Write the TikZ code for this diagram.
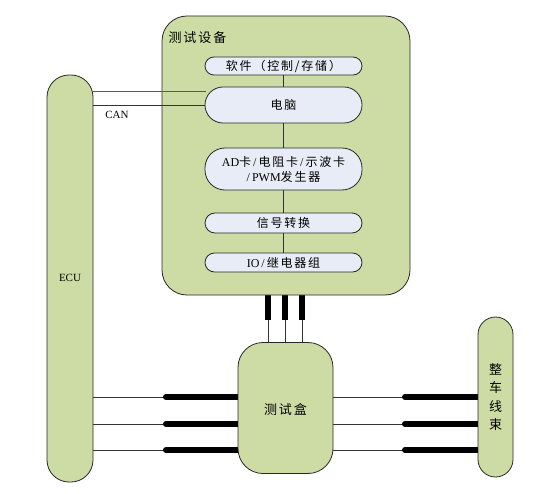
\documentclass[tikz,border=0pt]{standalone}
\usepackage{fontspec}
\setmainfont{Liberation Serif}
\newfontfamily\cjk[LetterSpace=15]{Noto Sans CJK SC}
\usetikzlibrary{backgrounds}
\definecolor{grn}{RGB}{205,220,165}
\definecolor{lbl}{RGB}{232,236,246}
\definecolor{edge}{RGB}{40,40,40}
\begin{document}
\begin{tikzpicture}[x=1pt,y=-1pt,
  greenbox/.style={draw=edge,fill=grn,line width=0.8pt,inner sep=0pt},
  inner/.style={draw=edge,fill=lbl,line width=0.8pt,inner sep=0pt,minimum width=157pt,align=center,font=\fontsize{12}{15}\selectfont},
  thin/.style={line width=0.7pt,draw=black!80},
  thick/.style={line width=6pt,line cap=round},
  vthick/.style={line width=6pt}]
\useasboundingbox (0,0) rectangle (553,494);
% main device box
\node[greenbox,minimum width=248pt,minimum height=279pt,rounded corners=25pt] (dev) at (286,155.5) {};
\node[font=\fontsize{13}{15}\selectfont,anchor=west] (devt) at (165,38) {\cjk 测试设备};
% inner boxes
\node[inner,minimum height=18pt,rounded corners=9pt] (soft) at (283.5,66) {\cjk 软件（控制/存储）};
\node[inner,minimum height=36pt,rounded corners=18pt] (pc) at (283.5,105) {\cjk 电脑};
\node[inner,minimum height=42pt,rounded corners=20pt] (ad) at (283.5,169) {AD{\cjk 卡}\,/\,{\cjk 电阻卡}\,/\,{\cjk 示波卡}\\/\,PWM{\cjk 发生器}};
\node[inner,minimum height=20pt,rounded corners=10pt] (sig) at (283.5,223) {\cjk 信号转换};
\node[inner,minimum height=19pt,rounded corners=9.5pt] (io) at (283.5,262.5) {IO\,/\,{\cjk 继电器组}};
\draw[thin] (soft) -- (pc) -- (ad) -- (sig) -- (io);
% ECU
\node[greenbox,minimum width=46pt,minimum height=407pt,rounded corners=22pt] (ecu) at (70,278.5) {};
\node[font=\fontsize{11}{13}\selectfont] (ecut) at (70,278) {ECU};
% CAN
\coordinate (can1) at (206,92);
\draw[thin,draw=black!65,line width=1pt] (ecu.east |- can1) -- (can1);
\draw[thin] (ecu.east |- pc.west) -- (pc.west);
\node[font=\fontsize{11}{13}\selectfont] (cant) at (117,115) {CAN};
% test box
\node[greenbox,minimum width=95pt,minimum height=131pt,rounded corners=25pt] (tb) at (285.5,408) {};
\node[font=\fontsize{13}{15}\selectfont] (tbt) at (285.5,410) {\cjk 测试盒};
% wiring harness
\node[greenbox,minimum width=35pt,minimum height=160pt,rounded corners=17.5pt] (wh) at (495.5,397) {};
\node[font=\fontsize{13}{18.5}\selectfont,align=center] (wht) at (495.5,397) {\cjk 整\\\cjk 车\\\cjk 线\\\cjk 束};
% connections
\begin{pgfonlayer}{background}
\foreach \i/\y in {1/397,2/424,3/450}{
  \coordinate (la\i) at (166,\y);
  \coordinate (ra\i) at (405,\y);
  \draw[thin] (ecu.east |- la\i) -- (la\i);
  \draw[thick] (la\i) -- (tb.west |- la\i);
  \draw[thin] (tb.east |- ra\i) -- (ra\i);
  \draw[thick] (ra\i) -- (wh.west |- ra\i);
}
\foreach \i/\x in {1/268,2/285,3/302}{
  \coordinate (va\i) at (\x,320);
  \draw[vthick] (dev.south -| va\i) -- (va\i);
  \draw[thin] (va\i) -- (tb.north -| va\i);
}
\end{pgfonlayer}
\end{tikzpicture}
\end{document}
